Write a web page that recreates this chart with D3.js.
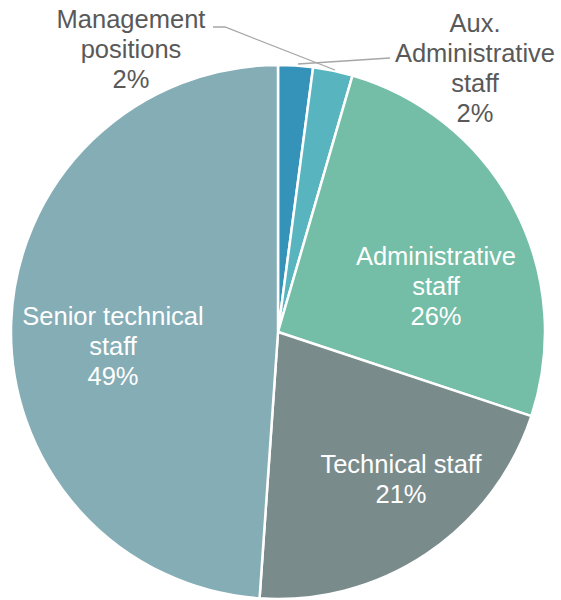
<!DOCTYPE html>
<html>
<head>
<meta charset="utf-8">
<script src="https://cdn.jsdelivr.net/npm/d3@7"></script>
<style>
  body { margin: 0; background: #fff; }
  svg text { font-family: "Liberation Sans", Arial, sans-serif; }
</style>
</head>
<body>
<div id="chart"></div>
<script>
// chart data
const categories = ["Management positions", "Aux. Administrative staff", "Administrative staff", "Technical staff", "Senior technical staff"];
const shares = [2.1, 2.4, 25.6, 21.0, 48.9];
const colors = ["#3592b9", "#58b5bf", "#74bda7", "#7a8b8c", "#84adb6"];
// how each label is broken into lines
const labelLines = [
    ["Management", "positions"],
    ["Aux.", "Administrative", "staff"],
    ["Administrative", "staff"],
    ["Technical staff"],
    ["Senior technical", "staff"]
];

const width = 561, height = 600;
const cx = 278, cy = 332, radius = 267;
const fontSize = 25.5, lineH = 30;

// label anchor (centre x, first baseline y) and whether it sits outside
const labelPos = [
    { x: 131, y: 28, outside: true },
    { x: 475, y: 32, outside: true },
    { x: 436, y: 265, outside: false },
    { x: 401, y: 473, outside: false },
    { x: 113, y: 325, outside: false }
];
// leader lines for the two small slices (text end -> slice)
const leaders = [
    [[213, 27], [225, 27], [335, 70]],
    [[390, 58], [298, 64]]
];

const svg = d3.select("#chart").append("svg")
    .attr("width", width)
    .attr("height", height);

const data = categories.map((c, i) => ({ name: c, value: shares[i], color: colors[i] }));

const pie = d3.pie().sort(null).value(d => d.value);
const arc = d3.arc().innerRadius(0).outerRadius(radius);

const g = svg.append("g").attr("transform", `translate(${cx},${cy})`);

g.selectAll("path")
    .data(pie(data))
    .join("path")
        .attr("d", arc)
        .attr("fill", d => d.data.color)
        .attr("stroke", "#fff")
        .attr("stroke-width", 2.5)
        .attr("stroke-linejoin", "round");

// leader lines
svg.selectAll("path.leader")
    .data(leaders)
    .join("path")
        .attr("class", "leader")
        .attr("d", d => d3.line()(d))
        .attr("fill", "none")
        .attr("stroke", "#a6a6a6")
        .attr("stroke-width", 1.3);

// labels
const labels = svg.selectAll("text.lbl")
    .data(data)
    .join("text")
        .attr("class", "lbl")
        .attr("text-anchor", "middle")
        .attr("font-size", fontSize)
        .attr("fill", (d, i) => labelPos[i].outside ? "#595959" : "#fff");

labels.each(function(d, i) {
    const lines = labelLines[i].concat([Math.round(d.value) + "%"]);
    d3.select(this).selectAll("tspan")
        .data(lines)
        .join("tspan")
            .attr("x", labelPos[i].x)
            .attr("y", (t, j) => labelPos[i].y + j * lineH)
            .text(t => t);
});
</script>
</body>
</html>
